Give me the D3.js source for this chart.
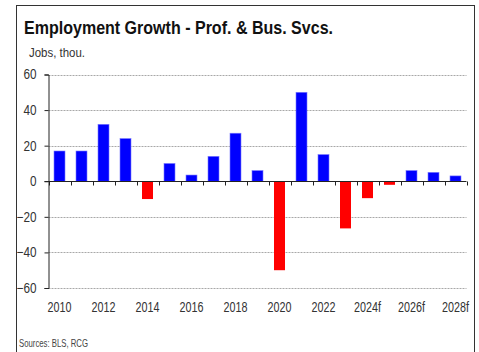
<!DOCTYPE html>
<html>
<head>
<meta charset="utf-8">
<script src="https://cdn.jsdelivr.net/npm/d3@7"></script>
<style>
  html, body { margin: 0; padding: 0; background: #fff; }
  svg { display: block; }
  text { font-family: "Liberation Sans", Arial, sans-serif; }
</style>
</head>
<body>
<svg id="chart" width="479" height="352"></svg>
<script>
// Annual change in professional & business services employment (thousands)
const years = ["2010","2011","2012","2013","2014","2015","2016","2017","2018","2019",
               "2020","2021","2022","2023","2024f","2025f","2026f","2027f","2028f"];
const jobs = [17, 17, 32, 24, -10, 10, 3.5, 14, 27, 6,
              -50, 50, 15, -26.5, -9.5, -2, 6, 5, 3];
const yTicks = [-60, -40, -20, 0, 20, 40, 60];
const xLabels = ["2010","2012","2014","2016","2018","2020","2022","2024f","2026f","2028f"];

const svg = d3.select("#chart");

// squeeze text horizontally to get a narrow face
function condense(sel, factor) {
  sel.each(function () {
    const w = this.getComputedTextLength();
    d3.select(this).attr("textLength", w * factor).attr("lengthAdjust", "spacingAndGlyphs");
  });
}

// outer frame
svg.append("rect")
  .attr("x", 16.5).attr("y", 5.5)
  .attr("width", 458).attr("height", 360)
  .attr("fill", "none").attr("stroke", "#333").attr("stroke-width", 1);

// title and unit note
svg.append("text")
  .attr("x", 24).attr("y", 34)
  .attr("font-size", 18.5).attr("font-weight", "bold").attr("fill", "#111")
  .text("Employment Growth - Prof. & Bus. Svcs.")
  .attr("textLength", 309).attr("lengthAdjust", "spacingAndGlyphs");
svg.append("text")
  .attr("x", 29).attr("y", 57)
  .attr("font-size", 12).attr("fill", "#333")
  .text("Jobs, thou.")
  .attr("textLength", 56).attr("lengthAdjust", "spacingAndGlyphs");

const x = d3.scaleBand().domain(years).range([48.5, 466.5]).paddingInner(0.5).paddingOuter(0.25);
const y = d3.scaleLinear().domain([-60, 60]).range([288, 74.5]);

// horizontal gridlines
svg.append("g").selectAll("line")
  .data(yTicks.filter(d => d !== 0))
  .join("line")
  .attr("x1", 48.5).attr("x2", 466.5)
  .attr("y1", d => Math.round(y(d)) + 0.5).attr("y2", d => Math.round(y(d)) + 0.5)
  .attr("stroke", "#a8a8a8").attr("stroke-width", 1).attr("stroke-dasharray", "2,1");

// y axis
const yAxis = d3.axisLeft(y).tickValues(yTicks).tickSize(4).tickPadding(8).tickFormat(d3.format("d"));
const gy = svg.append("g").attr("transform", "translate(48.5,0)").call(yAxis);
gy.select(".domain").attr("stroke", "#222");
gy.selectAll(".tick line").attr("stroke", "#222");
gy.selectAll(".tick text").attr("font-size", 14).attr("fill", "#333")
  .style("font-family", "'Liberation Sans', Arial, sans-serif")
  .call(condense, 0.84);

// bars
svg.append("g").selectAll("rect")
  .data(years.map((yr, i) => ({ yr, v: jobs[i] })))
  .join("rect")
  .attr("x", d => x(d.yr))
  .attr("width", x.bandwidth())
  .attr("y", d => y(Math.max(0, d.v)))
  .attr("height", d => Math.abs(y(d.v) - y(0)))
  .attr("fill", d => d.v >= 0 ? "#0000ff" : "#ff0000")
  .attr("stroke", d => d.v >= 0 ? "#7a7aff" : "none")
  .attr("stroke-width", 0.6);

// zero line with category-boundary ticks
const y0 = Math.round(y(0)) + 0.5;
svg.append("line")
  .attr("x1", 44.5).attr("x2", 466.5).attr("y1", y0).attr("y2", y0)
  .attr("stroke", "#222").attr("stroke-width", 1);
svg.append("g").selectAll("line")
  .data(d3.range(years.length + 1))
  .join("line")
  .attr("x1", i => Math.round(48.5 + i * (418 / years.length)) + 0.5)
  .attr("x2", i => Math.round(48.5 + i * (418 / years.length)) + 0.5)
  .attr("y1", y0).attr("y2", y0 + 4)
  .attr("stroke", "#222").attr("stroke-width", 1);

// x labels every other year
svg.append("g").selectAll("text")
  .data(xLabels)
  .join("text")
  .attr("x", d => x(d) + x.bandwidth() / 2)
  .attr("y", 312)
  .attr("text-anchor", "middle")
  .attr("font-size", 14).attr("fill", "#333")
  .text(d => d)
  .call(condense, 0.77);

// source note
svg.append("text")
  .attr("x", 19).attr("y", 347)
  .attr("font-size", 10.5).attr("fill", "#444")
  .text("Sources: BLS, RCG")
  .attr("textLength", 69).attr("lengthAdjust", "spacingAndGlyphs");
</script>
</body>
</html>
